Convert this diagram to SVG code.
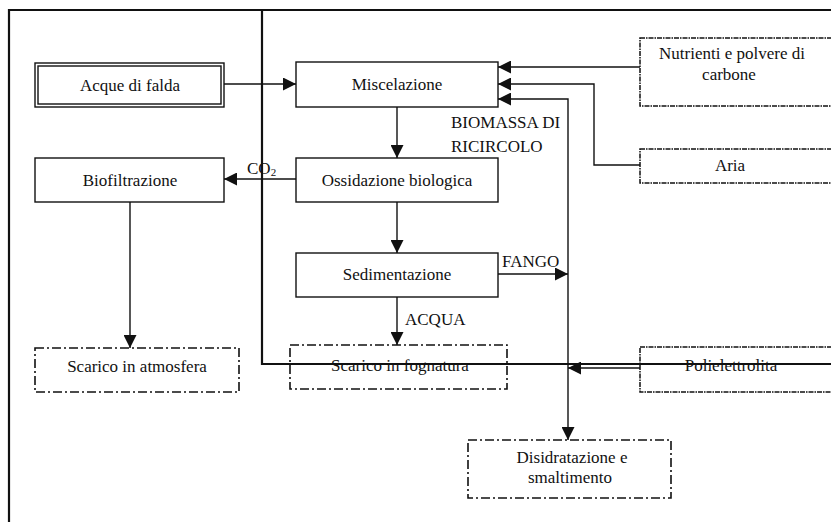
<svg xmlns="http://www.w3.org/2000/svg" width="831" height="522" viewBox="0 0 831 522">
<defs>
<style>
text{font-family:'Liberation Serif','Times New Roman',Times,'DejaVu Serif',serif;font-size:17px;fill:#111;}
.m{text-anchor:middle;}
.box{fill:#fff;stroke:#111;stroke-width:1.4;}
.dd{fill:none;stroke:#111;stroke-width:1.6;stroke-dasharray:9 3 2 3;}
.dt{fill:none;stroke:#111;stroke-width:1.5;stroke-dasharray:5 1 1.5 1;}
.frame{fill:none;stroke:#111;stroke-width:2.2;}
.c{fill:none;stroke:#111;stroke-width:1.4;}
</style>
<marker id="ah" markerUnits="userSpaceOnUse" markerWidth="13" markerHeight="13" viewBox="0 0 12 12" refX="12" refY="6" orient="auto">
<path d="M0,0 L12,6 L0,12 z" fill="#111"/>
</marker>
</defs>
<rect width="831" height="522" fill="#fff"/>
<g id="frame">
<path class="frame" d="M9,522 V10 H831"/>
<path class="frame" d="M262,10 V364 H831"/>
</g>
<g font-family="Liberation Serif, serif">
<g id="acque">
<rect class="box" x="35" y="63" width="189" height="44"/>
<rect class="box" x="38" y="66" width="183" height="38"/>
<text class="m" x="130" y="91">Acque di falda</text>
</g>
<g id="miscelazione">
<rect class="box" x="296" y="62" width="202" height="45"/>
<text class="m" x="397" y="90">Miscelazione</text>
</g>
<g id="biofiltrazione">
<rect class="box" x="35" y="158" width="189" height="44"/>
<text class="m" x="130" y="186">Biofiltrazione</text>
</g>
<g id="ossidazione">
<rect class="box" x="296" y="158" width="202" height="44"/>
<text class="m" x="397" y="186">Ossidazione biologica</text>
</g>
<g id="sedimentazione">
<rect class="box" x="296" y="253" width="202" height="44"/>
<text class="m" x="397" y="280">Sedimentazione</text>
</g>
<g id="nutrienti">
<rect class="dt" x="640" y="38" width="196" height="68"/>
<text class="m" x="732" y="59">Nutrienti e polvere di</text>
<text class="m" x="729" y="80">carbone</text>
</g>
<g id="aria">
<rect class="dt" x="640" y="149" width="196" height="34"/>
<text class="m" x="730" y="171">Aria</text>
</g>
<g id="scarico-atmosfera">
<rect class="dd" x="35" y="348" width="204" height="44"/>
<text class="m" x="137" y="372">Scarico in atmosfera</text>
</g>
<g id="scarico-fognatura">
<rect class="dd" x="290" y="345" width="217" height="44"/>
<text class="m" x="400" y="371">Scarico in fognatura</text>
</g>
<g id="polielettrolita">
<rect class="dt" x="640" y="347" width="196" height="45"/>
<text class="m" x="731" y="371">Polielettrolita</text>
</g>
<g id="disidratazione">
<rect class="dd" x="468" y="440" width="203" height="58"/>
<text class="m" x="572" y="463">Disidratazione e</text>
<text class="m" x="570" y="483">smaltimento</text>
</g>
</g>
<path class="frame" d="M262,364 H831"/>
<g id="connectors">
<path class="c" d="M224,84 H296" marker-end="url(#ah)"/>
<path class="c" d="M397,107 V158" marker-end="url(#ah)"/>
<path class="c" d="M296,179 H224" marker-end="url(#ah)"/>
<path class="c" d="M397,202 V253" marker-end="url(#ah)"/>
<path class="c" d="M397,297 V345" marker-end="url(#ah)"/>
<path class="c" d="M130,202 V348" marker-end="url(#ah)"/>
<path class="c" d="M640,67 H498" marker-end="url(#ah)"/>
<path class="c" d="M640,165 H594 V84 H498" marker-end="url(#ah)"/>
<path class="c" d="M498,274 H568" marker-end="url(#ah)"/>
<path class="c" d="M568,274 V99 H498" marker-end="url(#ah)"/>
<path class="c" d="M568,274 V440" marker-end="url(#ah)"/>
<path class="c" d="M640,368 H568" marker-end="url(#ah)"/>
<text x="247" y="174">CO<tspan font-size="11" dy="2">2</tspan></text>
<text x="451" y="128">BIOMASSA DI</text>
<text x="451" y="152">RICIRCOLO</text>
<text x="502" y="267">FANGO</text>
<text x="405" y="325">ACQUA</text>
</g>
</svg>
